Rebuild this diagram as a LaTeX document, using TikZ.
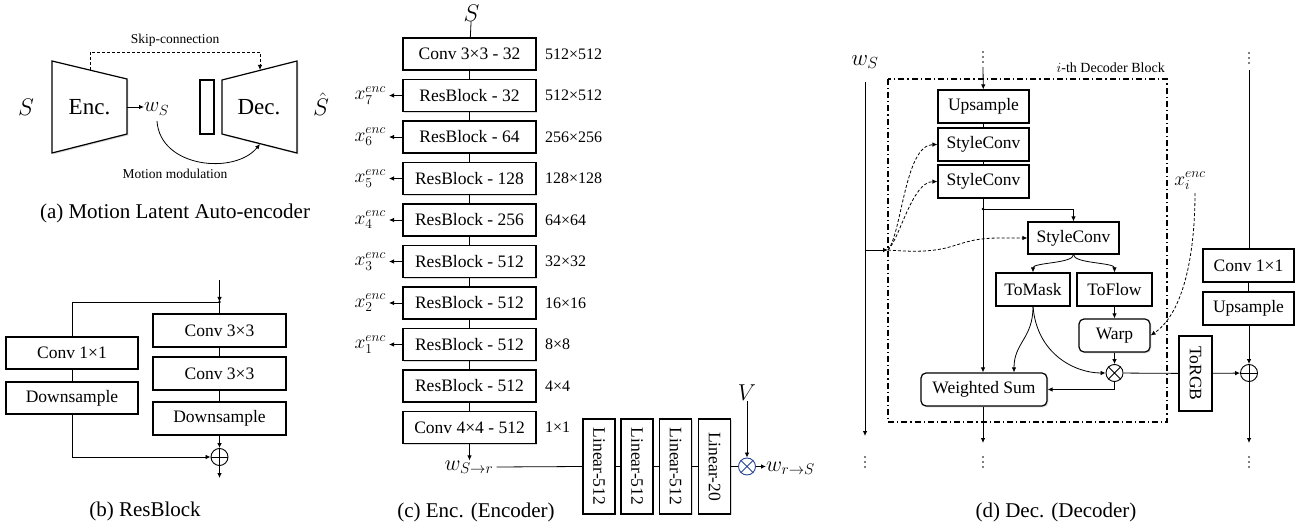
\documentclass[tikz,border=0pt]{standalone}
\usepackage{fix-cm}
\usepackage{fontspec}
\setmainfont{Liberation Serif}
\usepackage{graphicx}
\usetikzlibrary{arrows.meta,shadows,calc}
\definecolor{otblue}{RGB}{40,70,150}
\newcommand\vdts[2]{\foreach \dd in {0,5,10}{\fill (#1,#2+\dd) circle (0.9pt);}}
\begin{document}
\begin{tikzpicture}[x=1pt,y=-1pt,
  every node/.style={inner sep=0pt},
  shd/.style={drop shadow={shadow xshift=1.3pt,shadow yshift=-1.3pt,opacity=0.3}},
  blk/.style={draw, fill=white, line width=1.2pt, font=\fontsize{17.5}{20}\selectfont, shd},
  rblk/.style={blk, rounded corners=5pt},
  con/.style={line width=0.8pt},
  arr/.style={con, -{Latex[length=5pt,width=4.5pt]}},
  dsh/.style={arr, dash pattern=on 3pt off 2pt},
  captxt/.style={font=\fontsize{21}{24}\selectfont},
  sm/.style={font=\fontsize{13.5}{15}\selectfont},
  dimtxt/.style={font=\fontsize{16}{18}\selectfont, anchor=west},
  mth/.style={font=\fontsize{19.5}{21}\selectfont},
  big/.style={font=\fontsize{23}{26}\selectfont},
  ocirc/.style={draw, circle, minimum size=17pt, line width=0.9pt, fill=white},
]
\useasboundingbox (0,0) rectangle (1307,529);

% ---------------- (a) ----------------
\filldraw[fill=white, line width=1.2pt, shd] (52,61) -- (127,79) -- (127,134) -- (52,153) -- cycle;
\filldraw[fill=white, line width=1.2pt, shd] (222,80) -- (297,61) -- (297,153) -- (222,134) -- cycle;
\node[draw, fill=white, line width=1.2pt, minimum width=14, minimum height=54, shd] (bar) at (207,107) {};
\node[big] (enc) at (89.5,107) {Enc.};
\node[big] (dec) at (259,107) {Dec.};
\node[font=\fontsize{24}{26}\selectfont] (Sa) at (26,107) {$S$};
\node[font=\fontsize{24}{26}\selectfont, anchor=south] (Sh) at (321,116) {$\hat{S}$};
\node[font=\fontsize{21}{22}\selectfont, anchor=west] (wS) at (144,109) {$w_S$};
\coordinate (encR) at (127,107);
\coordinate (encT) at (90,70);
\coordinate (decT) at (260,70);
\coordinate (decB) at (260,144);
\draw[arr] (encR) -- (encR -| wS.west);
\draw[dsh] (encT) -- ++(0,-18) -| (decT);
\node[sm] (skip) at (175,40) {Skip-connection};
\draw[arr] (157,121) .. controls (160,168) and (235,175) .. (decB);
\node[sm] (mm) at (175,174) {Motion modulation};
\node[captxt] (capa) at (175,213) {(a) Motion Latent Auto-encoder};

% ---------------- (b) ----------------
\node[blk, minimum width=133, minimum height=33] (b1) at (219.5,330.5) {Conv 3×3};
\node[blk, minimum width=133, minimum height=33] (b2) at (219.5,373.5) {Conv 3×3};
\node[blk, minimum width=133, minimum height=33] (b3) at (219.5,418.5) {Downsample};
\node[blk, minimum width=132, minimum height=32] (b4) at (72,353) {Conv 1×1};
\node[blk, minimum width=132, minimum height=32] (b5) at (72,398) {Downsample};
\coordinate (bin) at (219.5,280);
\coordinate (bj) at (219.5,302);
\coordinate (bout) at (219.5,478);
\draw[arr] (bin) -- (bj);
\fill (bj) circle (1.4pt);
\draw[con] (bj) -- (b1);
\draw[con] (bj) -| (b4.north);
\draw[con] (b1) -- (b2);
\draw[con] (b2) -- (b3);
\draw[con] (b4) -- (b5);
\node[ocirc] (bop) at (219.5,457) {};
\draw[line width=0.9pt] (bop.north) -- (bop.south) (bop.west) -- (bop.east);
\draw[arr] (b3) -- (bop);
\draw[arr] (b5.south) |- (bop.west);
\draw[arr] (bop.south) -- (bout);
\node[captxt] (capb) at (145,511) {(b) ResBlock};

% ---------------- (c) ----------------
\node[font=\fontsize{24}{26}\selectfont] (Sc) at (471.5,13) {$S$};
\foreach \i/\t/\d in {1/Conv 3×3 - 32/512×512, 2/ResBlock - 32/512×512, 3/ResBlock - 64/256×256,
  4/ResBlock - 128/128×128, 5/ResBlock - 256/64×64, 6/ResBlock - 512/32×32, 7/ResBlock - 512/16×16,
  8/ResBlock - 512/8×8, 9/ResBlock - 512/4×4, 10/Conv 4×4 - 512/1×1}{
  \node[blk, minimum width=133, minimum height=32] (c\i) at (469.5,{54+(\i-1)*41.5}) {\t};
  \node[dimtxt] (cd\i) at (545,{54+(\i-1)*41.5}) {\d};
}
\foreach \i in {2,...,8}{
  \pgfmathtruncatemacro\k{9-\i}
  \node[mth, anchor=east, inner xsep=3pt] (x\k) at (389,{54+(\i-1)*41.5}) {$x^{enc}_{\k}$};
  \draw[arr] (c\i.west) -- (x\k.east);
}
\foreach \i [evaluate=\i as \j using int(\i+1)] in {1,...,9}{
  \draw[con] (c\i) -- (c\j);
}
\draw[con] (Sc) -- (c1);
\node[font=\fontsize{22}{24}\selectfont] (wsr) at (469,467) {$w_{S\to r}$};
\draw[arr] (c10) -- (c10 |- wsr.north);
\node[blk, minimum width=32, minimum height=95] (L1) at (599,466.5) {\rotatebox{-90}{Linear-512}};
\node[blk, minimum width=32, minimum height=95] (L2) at (637,466.5) {\rotatebox{-90}{Linear-512}};
\node[blk, minimum width=32, minimum height=95] (L3) at (675.5,466.5) {\rotatebox{-90}{Linear-512}};
\node[blk, minimum width=32, minimum height=95] (L4) at (714.5,466.5) {\rotatebox{-90}{Linear-20}};
\draw[con] ($(wsr.east)+(3,0)$) -- (L1.west);
\draw[con] (L1) -- (L2);
\draw[con] (L2) -- (L3);
\draw[con] (L3) -- (L4);
\node[ocirc, draw=otblue] (cot) at (747,466.5) {};
\draw[line width=0.9pt, otblue] (cot.north east) -- (cot.south west) (cot.north west) -- (cot.south east);
\draw[con] (L4) -- (cot);
\node[font=\fontsize{23}{24}\selectfont] (V) at (747,393) {$V$};
\draw[arr] (V) -- (cot);
\node[font=\fontsize{22}{24}\selectfont, anchor=west] (wrs) at (766,468) {$w_{r\to S}$};
\draw[arr] (cot) -- (cot -| wrs.west);
\node[captxt] (capc) at (476,512) {(c) Enc. (Encoder)};

% ---------------- (d) ----------------
\node[font=\fontsize{23}{24}\selectfont] (wSd) at (865,62) {$w_S$};
\coordinate (ltop) at (865,82);
\coordinate (lbot) at (865,436);
\draw[arr] (ltop) -- (lbot);
\vdts{865}{457}
\coordinate (jn) at (888,250);
\draw[arr] (865,250) -- (jn);
\draw[line width=1.2pt, dash pattern=on 6pt off 3pt on 1.2pt off 3pt] (888,79) rectangle (1167,422);
\node[font=\fontsize{14}{16}\selectfont, anchor=east] (dbt) at (1165,68) {$i$-th Decoder Block};

\vdts{983}{52}
\coordinate (ctop) at (983,67);
\node[blk, minimum width=91, minimum height=33] (up) at (983.5,106.5) {Upsample};
\node[blk, minimum width=91, minimum height=33] (sc1) at (983.5,144.5) {StyleConv};
\node[blk, minimum width=91, minimum height=33] (sc2) at (983.5,181.5) {StyleConv};
\draw[arr] (ctop) -- (up);
\draw[con] (up) -- (sc1);
\draw[con] (sc1) -- (sc2);
\coordinate (jc) at (983,209);
\draw[con] (sc2.south -| jc) -- (jc);
\fill (jc) circle (1.4pt);
\node[blk, minimum width=91, minimum height=32] (sc3) at (1073.5,238) {StyleConv};
\draw[arr] (jc) -| (sc3.north);
\node[blk, minimum width=74, minimum height=33] (tm) at (1033,289.5) {ToMask};
\node[blk, minimum width=75, minimum height=33] (tf) at (1114.5,289.5) {ToFlow};
\draw[arr] (sc3.south) .. controls +(0,9) and +(0,-10) .. (tm.north);
\draw[arr] (sc3.south) .. controls +(0,9) and +(0,-10) .. (tf.north);
\node[rblk, minimum width=71, minimum height=33] (warp) at (1114.5,335.5) {Warp};
\draw[arr] (tf) -- (warp);
\node[ocirc] (ot) at (1114.5,373) {};
\draw[line width=0.9pt] (ot.north east) -- (ot.south west) (ot.north west) -- (ot.south east);
\draw[arr] (warp) -- (ot);
\node[rblk, minimum width=126, minimum height=33] (ws) at (984,389.5) {Weighted Sum};
\draw[arr] (jc) -- (jc |- ws.north);
\draw[arr] (tm.south) .. controls +(0,32) and +(0,-30) .. ($(ws.north)+(30,0)$);
\draw[arr] (tm.south) .. controls +(4,48) and +(-30,0) .. (ot.west);
\draw[arr] (ot.south) |- (ws.east);
\draw[arr] (ws.south -| jc) -- (983,443);
\vdts{983}{457}

\node[blk, minimum width=33, minimum height=75] (rgb) at (1195.5,373.5) {\rotatebox{-90}{ToRGB}};
\draw[con] (ot) -- (rgb);
\vdts{1249}{53}
\coordinate (rtop) at (1249,70);
\node[blk, minimum width=91, minimum height=33] (c11) at (1248.5,265.5) {Conv 1×1};
\node[blk, minimum width=91, minimum height=33] (up2) at (1248.5,308.5) {Upsample};
\draw[con] (rtop) -- (rtop |- c11.north);
\draw[con] (c11) -- (up2);
\node[ocirc] (rop) at (1249,373) {};
\draw[line width=0.9pt] (rop.north) -- (rop.south) (rop.west) -- (rop.east);
\draw[arr] (up2.south -| rop) -- (rop);
\draw[arr] (rgb) -- (rop);
\coordinate (rbot) at (1249,443);
\draw[arr] (rop.south) -- (rbot);
\vdts{1249}{457}

\node[mth] (xi) at (1190,181) {$x^{enc}_i$};
\draw[dsh] ($(xi.south)+(5,3)$) .. controls (1195,250) and (1185,312) .. (warp.east);
\draw[dsh] (jn) .. controls (902,232) and (905,145) .. (sc1.west);
\draw[dsh] (jn) .. controls (900,238) and (912,182) .. (sc2.west);
\draw[dsh] (jn) .. controls (960,256) and (950,238) .. (1000,238) -- (sc3.west);

\node[captxt] (capd) at (1056,512) {(d) Dec. (Decoder)};
\end{tikzpicture}
\end{document}
